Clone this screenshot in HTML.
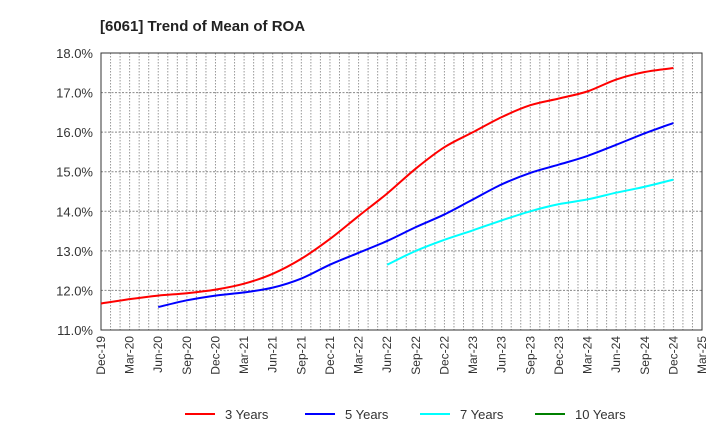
<!DOCTYPE html>
<html><head><meta charset="utf-8"><style>
body{margin:0;background:#fff;font-family:"Liberation Sans",sans-serif}
svg text{font-family:"Liberation Sans",sans-serif}
</style></head><body>
<svg id="chart" width="720" height="440">
<text x="100" y="31" font-size="15" font-weight="bold" fill="#222">[6061]  Trend of Mean of ROA</text>
<g id="grid"></g><g id="axes"></g><g id="series"></g><g id="legend"></g>
</svg>
<script>
const categories=["Dec-19","Mar-20","Jun-20","Sep-20","Dec-20","Mar-21","Jun-21","Sep-21","Dec-21","Mar-22","Jun-22","Sep-22","Dec-22","Mar-23","Jun-23","Sep-23","Dec-23","Mar-24","Jun-24","Sep-24","Dec-24","Mar-25"];
const yTicks=[11,12,13,14,15,16,17,18];
const red3=[11.67,11.78,11.87,11.93,12.02,12.17,12.42,12.80,13.30,13.88,14.45,15.08,15.62,16.00,16.38,16.68,16.85,17.03,17.33,17.52,17.62];
const blue5=[null,null,11.58,11.75,11.87,11.95,12.07,12.30,12.65,12.95,13.25,13.60,13.92,14.30,14.68,14.97,15.18,15.40,15.68,15.97,16.23];
const cyan7=[null,null,null,null,null,null,null,null,null,null,12.65,13.00,13.28,13.52,13.77,14.00,14.18,14.30,14.47,14.62,14.80];
const green10=[];
const seriesNames=["3 Years","5 Years","7 Years","10 Years"];
const seriesColors=["#ff0000","#0000ff","#00ffff","#008000"];
const L=101,R=702,T=53,B=330,NS="http://www.w3.org/2000/svg";
const xs=i=>L+(R-L)*i/(categories.length-1);
const ys=v=>B-(v-11)/(18-11)*(B-T);
function mk(t,a,p){const e=document.createElementNS(NS,t);for(const k in a)e.setAttribute(k,a[k]);p.appendChild(e);return e;}
const grid=document.getElementById('grid'),axes=document.getElementById('axes'),ser=document.getElementById('series'),leg=document.getElementById('legend');
for(let m=1;m<(categories.length-1)*3;m++){const x=L+(R-L)*m/((categories.length-1)*3);
const l=mk('line',{x1:x,x2:x,y1:T,y2:B,stroke:'#999','stroke-dasharray':'1.5,1.5','stroke-width':1},grid);

}
yTicks.forEach(v=>{const y=ys(v);
const l=mk('line',{x1:L,x2:R,y1:y,y2:y,stroke:'#888','stroke-dasharray':'2,1.5','stroke-width':1},grid);


const t=mk('text',{x:L-8,y:y+5,'text-anchor':'end','font-size':13,fill:'#333'},axes);t.textContent=v.toFixed(1)+'%';

});
const fr=mk('rect',{x:L,y:T,width:R-L,height:B-T,fill:'none',stroke:'#333','stroke-width':1},axes);


categories.forEach((c,i)=>{const x=xs(i);
const t=mk('text',{x:x+4,y:B+6,'text-anchor':'end','font-size':12,fill:'#333',transform:`rotate(-90 ${x+4} ${B+6})`},axes);t.textContent=c;

});
function path(pts){let d=`M${pts[0][0]},${pts[0][1]}`;for(let i=0;i<pts.length-1;i++){const p0=pts[i-1]||pts[i],p1=pts[i],p2=pts[i+1],p3=pts[i+2]||p2;
d+=` C${p1[0]+(p2[0]-p0[0])/6},${p1[1]+(p2[1]-p0[1])/6} ${p2[0]-(p3[0]-p1[0])/6},${p2[1]-(p3[1]-p1[1])/6} ${p2[0]},${p2[1]}`;}return d;}
[red3,blue5,cyan7,green10].forEach((s,k)=>{const pts=[];s.forEach((v,i)=>{if(v!=null)pts.push([xs(i),ys(v)]);});
if(pts.length<2)return;
const p=mk('path',{d:path(pts),fill:'none',stroke:seriesColors[k],'stroke-width':2},ser);

});
const lx=[185,305,420,535];
seriesNames.forEach((n,k)=>{const g=mk('g',{},leg);


mk('line',{x1:lx[k],x2:lx[k]+30,y1:414,y2:414,stroke:seriesColors[k],'stroke-width':2},g);
const t=mk('text',{x:lx[k]+40,y:419,'font-size':13,fill:'#333'},g);t.textContent=n;});
</script>
</body></html>
